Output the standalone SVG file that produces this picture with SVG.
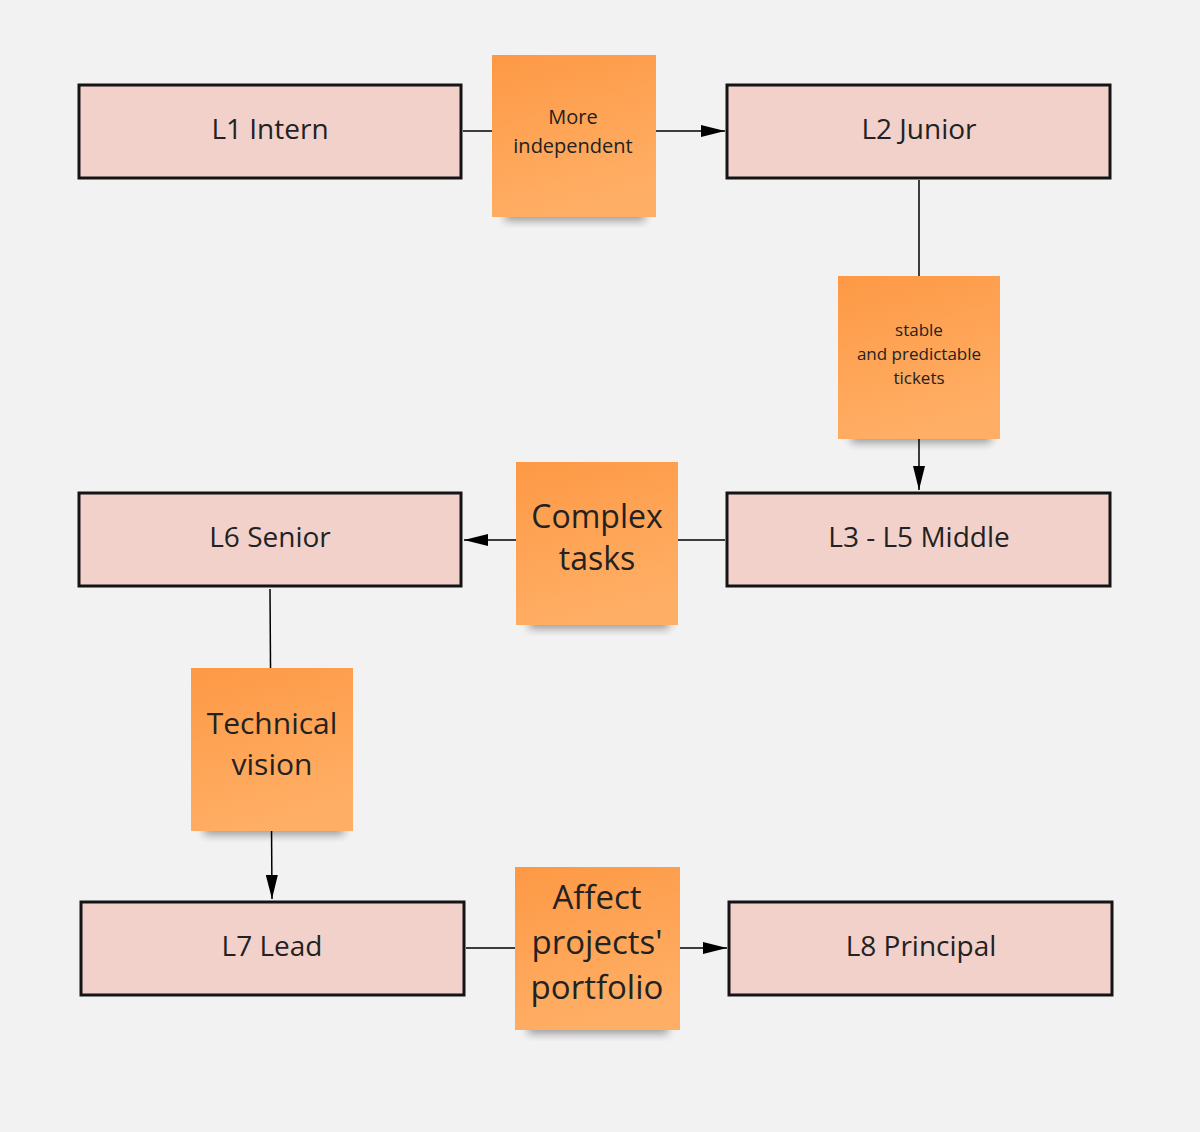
<svg xmlns="http://www.w3.org/2000/svg" width="1200" height="1132" viewBox="0 0 1200 1132">
<style>
.node{fill:#f2d1cb;stroke:#141414;stroke-width:3}
.nt{font-family:"Open Sans",sans-serif;font-size:28px;fill:#222;text-anchor:middle}
.st{font-family:"Open Sans",sans-serif;fill:#222;text-anchor:middle}
.c{stroke:#000;stroke-width:1.5;fill:none}
</style>
<defs>
<linearGradient id="g" x1="0" y1="0" x2="0.3" y2="1"><stop offset="0" stop-color="#fd9945"/><stop offset="1" stop-color="#ffae65"/></linearGradient>
<filter id="sh" x="-20%" y="-20%" width="140%" height="160%"><feGaussianBlur stdDeviation="4"/></filter>
<marker id="a" viewBox="0 0 10 10" refX="10" refY="5" markerWidth="10" markerHeight="10" markerUnits="userSpaceOnUse" orient="auto"><path d="M0,0 L10,5 L0,10 z" fill="#000"/></marker>
<marker id="b" viewBox="0 0 24 12" refX="24" refY="6" markerWidth="24" markerHeight="12" markerUnits="userSpaceOnUse" orient="auto"><path d="M0,0 L24,6 L0,12 z" fill="#000"/></marker>
</defs>
<rect width="1200" height="1132" fill="#f2f2f2"/>
<g id="connectors">
<line class="c" x1="463" y1="131" x2="725" y2="131" marker-end="url(#b)"/>
<line class="c" x1="919" y1="180" x2="919" y2="490" marker-end="url(#b)"/>
<line class="c" x1="725" y1="540" x2="464" y2="540" marker-end="url(#b)"/>
<line class="c" x1="270" y1="589" x2="272" y2="899" marker-end="url(#b)"/>
<line class="c" x1="466" y1="948" x2="727" y2="948" marker-end="url(#b)"/>
</g>
<g id="n1"><rect class="node" x="79" y="85" width="382" height="93"/><text class="nt" x="270" y="139">L1 Intern</text></g>
<g id="n2"><rect class="node" x="727" y="85" width="383" height="93"/><text class="nt" x="919" y="139">L2 Junior</text></g>
<g id="n3"><rect class="node" x="727" y="493" width="383" height="93"/><text class="nt" x="919" y="547">L3 - L5 Middle</text></g>
<g id="n6"><rect class="node" x="79" y="493" width="382" height="93"/><text class="nt" x="270" y="547">L6 Senior</text></g>
<g id="n7"><rect class="node" x="81" y="902" width="383" height="93"/><text class="nt" x="272" y="956">L7 Lead</text></g>
<g id="n8"><rect class="node" x="729" y="902" width="383" height="93"/><text class="nt" x="921" y="956">L8 Principal</text></g>
<g id="s1"><rect x="505" y="205" width="140" height="16" fill="#000" opacity="0.35" filter="url(#sh)"/><rect x="492" y="55" width="164" height="162" fill="url(#g)"/>
<text class="st" font-size="20" x="573" y="124">More</text><text class="st" font-size="20" x="573" y="153">independent</text></g>
<g id="s2"><rect x="851" y="427" width="140" height="16" fill="#000" opacity="0.35" filter="url(#sh)"/><rect x="838" y="276" width="162" height="163" fill="url(#g)"/>
<text class="st" font-size="17" x="919" y="336">stable</text><text class="st" font-size="17" x="919" y="360">and predictable</text><text class="st" font-size="17" x="919" y="384">tickets</text></g>
<g id="s3"><rect x="529" y="613" width="140" height="16" fill="#000" opacity="0.35" filter="url(#sh)"/><rect x="516" y="462" width="162" height="163" fill="url(#g)"/>
<text class="st" font-size="32" x="597" y="528">Complex</text><text class="st" font-size="32" x="597" y="570">tasks</text></g>
<g id="s4"><rect x="204" y="819" width="140" height="16" fill="#000" opacity="0.35" filter="url(#sh)"/><rect x="191" y="668" width="162" height="163" fill="url(#g)"/>
<text class="st" font-size="30" x="272" y="734">Technical</text><text class="st" font-size="30" x="272" y="775">vision</text></g>
<g id="s5"><rect x="528" y="1018" width="140" height="16" fill="#000" opacity="0.35" filter="url(#sh)"/><rect x="515" y="867" width="165" height="163" fill="url(#g)"/>
<text class="st" font-size="33" x="597" y="909">Affect</text><text class="st" font-size="33" x="597" y="954">projects'</text><text class="st" font-size="33" x="597" y="999">portfolio</text></g>
</svg>
